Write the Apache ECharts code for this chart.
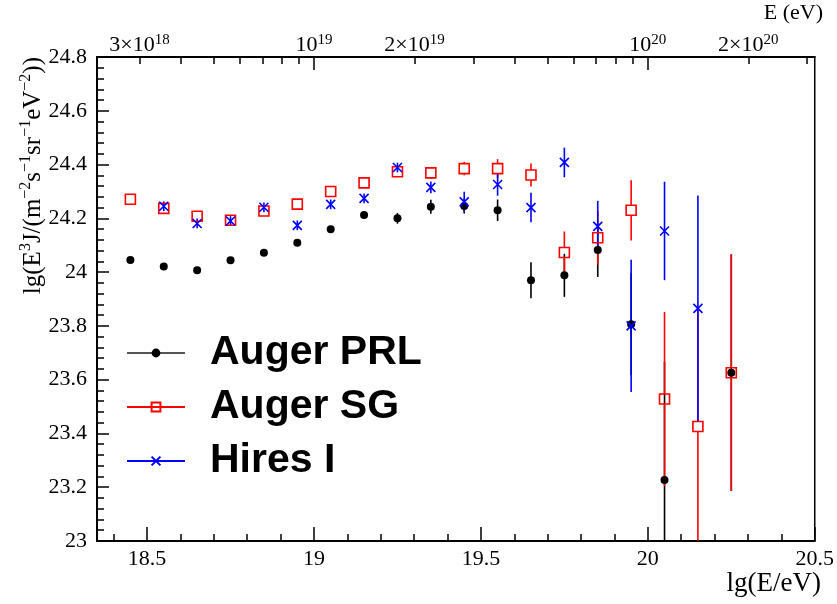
<!DOCTYPE html>
<html>
<head>
<meta charset="utf-8">
<script src="https://cdn.jsdelivr.net/npm/echarts@6/dist/echarts.min.js"></script>
<style>
  html, body { margin: 0; padding: 0; background: #fff; }
  #chart { width: 837px; height: 604px; }
</style>
</head>
<body>
<div id="chart"></div>
<script>
// Energy bin centres, lg(E/eV)
const energyBins = [18.45, 18.55, 18.65, 18.75, 18.85, 18.95, 19.05, 19.15, 19.25, 19.35,
                    19.45, 19.55, 19.65, 19.75, 19.85, 19.95, 20.05, 20.15, 20.25];

// lg(E^3 J) per data set, null where the set has no point
const augerPrl    = [24.045, 24.021, 24.007, 24.044, 24.072, 24.109, 24.159, 24.212, 24.200, 24.243,
                     24.246, 24.230, 23.970, 23.988, 24.082, 23.806, 23.227, null, 23.626];
const augerPrlErr = [0.006, 0.006, 0.006, 0.007, 0.008, 0.009, 0.010, 0.012, 0.020, 0.026,
                     0.028, 0.040, 0.067, 0.080, 0.100, 0.190, 0.440, null, 0.440];

const augerSg     = [24.271, 24.237, 24.208, 24.193, 24.227, 24.253, 24.300, 24.332, 24.373, 24.369,
                     24.385, 24.385, 24.361, 24.073, 24.128, 24.230, 23.528, 23.426, 23.626];
const augerSgErr  = [0.008, 0.008, 0.008, 0.008, 0.008, 0.009, 0.010, 0.011, 0.014, 0.022,
                     0.025, 0.035, 0.043, 0.078, 0.100, 0.112, 0.324, 0.440, 0.440];

const hiresI      = [null, 24.245, 24.181, 24.190, 24.241, 24.174, 24.252, 24.274, 24.389, 24.315,
                     24.261, 24.326, 24.240, 24.408, 24.170, 23.800, 24.153, 23.865, null];
const hiresIErr   = [null, 0.018, 0.018, 0.018, 0.018, 0.018, 0.018, 0.018, 0.018, 0.022,
                     0.038, 0.042, 0.055, 0.055, 0.095, 0.246, 0.183, 0.420, null];

// Axis ticks
const bottomTickLabels = [18.5, 19, 19.5, 20, 20.5];
const bottomMinorTicks = [18.4, 18.5, 18.6, 18.7, 18.8, 18.9, 19.0, 19.1, 19.2, 19.3, 19.4, 19.5,
                          19.6, 19.7, 19.8, 19.9, 20.0, 20.1, 20.2, 20.3, 20.4, 20.5];
const topLabelEnergies = [3e18, 1e19, 2e19, 1e20, 2e20];
const topTickEnergies = [3e18, 4e18, 5e18, 6e18, 7e18, 8e18, 9e18,
                         1e19, 2e19, 3e19, 4e19, 5e19, 6e19, 7e19, 8e19, 9e19,
                         1e20, 2e20, 3e20];
const topMajorEnergies = [1e19, 1e20];

const X_MIN = 18.35, X_MAX = 20.5;
const Y_MIN = 23, Y_MAX = 24.8;

const SERIF = 'Liberation Serif';
const SANS = 'Liberation Sans';

const lg = v => Math.log10(v);

function energyLabel(e) {
  const exp = Math.floor(Math.log10(e) + 1e-9);
  const mant = Math.round(e / Math.pow(10, exp));
  return (mant === 1 ? '' : mant + '×') + '10{s|' + exp + '}';
}
const topLabelMap = topLabelEnergies.map(e => ({ v: lg(e), text: energyLabel(e) }));

function pointsOf(values, errors) {
  const out = [];
  energyBins.forEach((e, i) => {
    if (values[i] != null) out.push([e, values[i], errors ? errors[i] : 0]);
  });
  return out;
}

// Vertical error bars; gap leaves the inside of an open marker empty
function errorBars(id, values, errors, color, gap) {
  return {
    type: 'custom',
    id: id,
    silent: true,
    clip: true,
    xAxisIndex: 0,
    yAxisIndex: 0,
    data: pointsOf(values, errors),
    encode: { x: 0, y: 1 },
    renderItem(params, api) {
      const x = api.value(0), y = api.value(1), err = api.value(2);
      const c = api.coord([x, y]);
      const top = api.coord([x, y + err])[1];
      const bot = api.coord([x, y - err])[1];
      const segs = gap > 0 ? [[top, c[1] - gap], [c[1] + gap, bot]] : [[top, bot]];
      return {
        type: 'group',
        children: segs.filter(s => s[1] > s[0]).map(s => ({
          type: 'line',
          shape: { x1: c[0], y1: s[0], x2: c[0], y2: s[1] },
          style: { stroke: color, lineWidth: 1.6 }
        }))
      };
    }
  };
}

function markers(name, values, symbol, size, itemStyle, lineColor) {
  return {
    type: 'line',
    name: name,
    xAxisIndex: 0,
    yAxisIndex: 0,
    data: pointsOf(values).map(p => [p[0], p[1]]),
    symbol: symbol,
    symbolSize: size,
    showSymbol: true,
    showAllSymbol: true,
    lineStyle: { width: 0, color: lineColor },
    itemStyle: itemStyle,
    emphasis: { disabled: true },
    silent: true,
    clip: true
  };
}

const chart = echarts.init(document.getElementById('chart'), null, { renderer: 'canvas' });

const axisLabelBase = { color: '#000', fontFamily: SERIF, fontSize: 22 };
const sup = { fontSize: 15, fontFamily: SERIF, color: '#000', verticalAlign: 'top' };

chart.setOption({
  animation: false,
  backgroundColor: '#fff',
  grid: {
    left: 97, right: 18, top: 57, bottom: 63,
    show: true, borderColor: '#000', borderWidth: 1.5, backgroundColor: 'transparent'
  },
  xAxis: [
    {
      type: 'value', position: 'bottom', min: X_MIN, max: X_MAX,
      axisLine: { show: true, onZero: false, lineStyle: { color: '#000', width: 2 } },
      axisTick: { show: true, inside: true, length: 14, customValues: bottomTickLabels,
                  lineStyle: { color: '#000', width: 1.5 } },
      axisLabel: Object.assign({ show: true, margin: 7, customValues: bottomTickLabels,
                                 formatter: v => String(v) }, axisLabelBase),
      splitLine: { show: false }
    },
    {
      type: 'value', position: 'bottom', min: X_MIN, max: X_MAX,
      axisLine: { show: false, onZero: false },
      axisTick: { show: true, inside: true, length: 7, customValues: bottomMinorTicks,
                  lineStyle: { color: '#000', width: 1.5 } },
      axisLabel: { show: false },
      splitLine: { show: false }
    },
    {
      type: 'value', position: 'top', min: X_MIN, max: X_MAX,
      axisLine: { show: true, onZero: false, lineStyle: { color: '#000', width: 2 } },
      axisTick: { show: true, inside: true, length: 7, customValues: topTickEnergies.map(lg),
                  lineStyle: { color: '#000', width: 1.5 } },
      axisLabel: Object.assign({
        show: true, margin: 0, lineHeight: 24,
        customValues: topLabelMap.map(t => t.v),
        formatter: v => {
          const hit = topLabelMap.find(t => Math.abs(t.v - v) < 1e-6);
          return hit ? hit.text : '';
        },
        rich: { s: sup }
      }, axisLabelBase),
      splitLine: { show: false }
    },
    {
      type: 'value', position: 'top', min: X_MIN, max: X_MAX,
      axisLine: { show: false, onZero: false },
      axisTick: { show: true, inside: true, length: 13, customValues: topMajorEnergies.map(lg),
                  lineStyle: { color: '#000', width: 1.5 } },
      axisLabel: { show: false },
      splitLine: { show: false }
    }
  ],
  yAxis: [
    {
      type: 'value', min: Y_MIN, max: Y_MAX, interval: 0.2,
      axisLine: { show: true, onZero: false, lineStyle: { color: '#000', width: 2 } },
      axisTick: { show: true, inside: true, length: 12, lineStyle: { color: '#000', width: 1.5 } },
      minorTick: { show: true, splitNumber: 5, length: 7, lineStyle: { color: '#000', width: 1.5 } },
      axisLabel: Object.assign({ margin: 10 }, axisLabelBase),
      splitLine: { show: false },
      minorSplitLine: { show: false }
    }
  ],
  legend: {
    orient: 'vertical',
    left: 126, top: 331,
    padding: 0,
    itemGap: 10,
    itemWidth: 58,
    itemHeight: 11,
    selectedMode: false,
    lineStyle: { width: 2 },
    textStyle: { fontFamily: SANS, fontWeight: 'bold', fontSize: 41, color: '#000',
                 lineHeight: 44, padding: [0, 0, 0, 20] },
    data: [
      { name: 'Auger PRL', lineStyle: { color: '#555' } },
      { name: 'Auger SG' },
      { name: 'Hires I' }
    ]
  },
  graphic: [
    {
      type: 'text', x: 33, y: 57, rotation: Math.PI / 2, silent: true,
      style: {
        text: 'lg(E{s|3}J/(m{s|−2}s{s|−1}sr{s|−1}eV{s|−2}))',
        align: 'right', verticalAlign: 'middle',
        fontFamily: SERIF, fontSize: 25, lineHeight: 30, fill: '#000',
        rich: { s: { fontSize: 16, fontFamily: SERIF, verticalAlign: 'top' } }
      }
    },
    {
      type: 'text', x: 821, y: 584, silent: true,
      style: { text: 'lg(E/eV)', align: 'right', verticalAlign: 'middle',
               fontFamily: SERIF, fontSize: 27, fill: '#000' }
    },
    {
      type: 'text', x: 823, y: 13, silent: true,
      style: { text: 'E (eV)', align: 'right', verticalAlign: 'middle',
               fontFamily: SERIF, fontSize: 22, fill: '#000' }
    }
  ],
  series: [
    errorBars('prl-err', augerPrl, augerPrlErr, '#000', 0),
    errorBars('sg-err', augerSg, augerSgErr, '#ff0000', 5),
    markers('Auger PRL', augerPrl, 'circle', 8,
            { color: '#000', borderWidth: 0 }, '#000'),
    markers('Auger SG', augerSg, 'rect', 10,
            { color: 'rgba(0,0,0,0)', borderColor: '#ff0000', borderWidth: 1.6 }, '#ff0000'),
    errorBars('hires-err', hiresI, hiresIErr, '#0000ff', 0),
    markers('Hires I', hiresI, 'path://M0,0L10,10M10,0L0,10', 9,
            { color: 'rgba(0,0,0,0)', borderColor: '#0000ff', borderWidth: 1.6 }, '#0000ff')
  ]
});
</script>
</body>
</html>
